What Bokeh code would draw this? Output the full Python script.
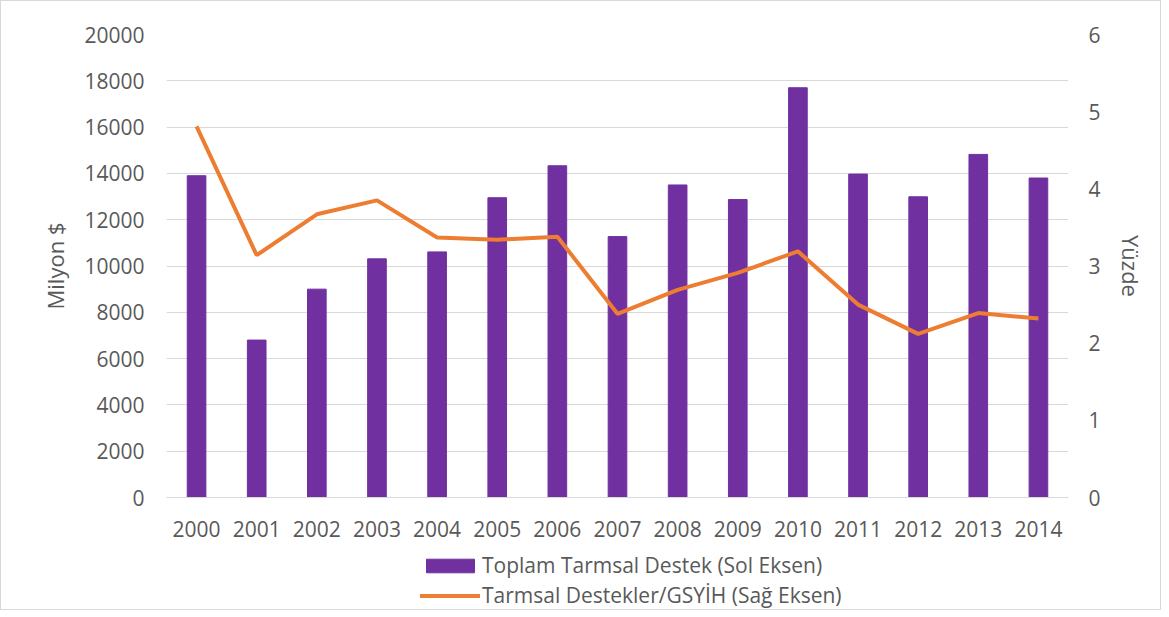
from bokeh.plotting import figure
from bokeh.layouts import column
from bokeh.models import Range1d, LinearAxis, SingleIntervalTicker, Legend, LegendItem, FactorRange
from bokeh.embed import file_html
from bokeh.resources import INLINE

years = ["2000", "2001", "2002", "2003", "2004", "2005", "2006", "2007",
         "2008", "2009", "2010", "2011", "2012", "2013", "2014"]
support = [13900, 6800, 9000, 10310, 10610, 12950, 14330, 11270,
           13500, 12870, 17700, 13970, 12990, 14820, 13800]
ratio = [4.81, 3.14, 3.67, 3.85, 3.37, 3.34, 3.38, 2.38,
         2.69, 2.91, 3.19, 2.50, 2.12, 2.39, 2.32]

bar_label = "Toplam Tarmsal Destek (Sol Eksen)"
line_label = "Tarmsal Destekler/GSYİH (Sağ Eksen)"

FONT = "Open Sans"
TXT = "#595959"
GRID = "#D9D9D9"
BAR_C = "#7030A0"
LINE_C = "#ED7D31"

W = 1159
p = figure(width=W, height=540, x_range=FactorRange(*years, range_padding=0),
           y_range=Range1d(0, 20000), output_backend="svg", toolbar_location=None,
           min_border_left=165, min_border_right=W - 165 - 902, min_border_top=33, min_border_bottom=44)
p.extra_y_ranges = {"pct": Range1d(0, 6)}
p.outline_line_color = None
p.background_fill_color = "white"
p.border_fill_color = "white"

bars = p.vbar(x=years, top=support, width=0.31, color=BAR_C)
line = p.line(x=years, y=ratio, y_range_name="pct", line_color=LINE_C, line_width=4)

p.yaxis.ticker = SingleIntervalTicker(interval=2000)
p.yaxis.axis_label = "Milyon $"

ax_r = LinearAxis(y_range_name="pct", ticker=SingleIntervalTicker(interval=1), axis_label="Yüzde")
p.add_layout(ax_r, "right")

for ax in [p.yaxis[0], ax_r]:
    ax.axis_line_color = None
    ax.major_tick_line_color = None
    ax.minor_tick_line_color = None
    ax.major_label_text_font = FONT
    ax.major_label_text_font_size = "21px"
    ax.major_label_text_color = TXT
    ax.axis_label_text_font = FONT
    ax.axis_label_text_font_size = "22px"
    ax.axis_label_text_font_style = "normal"
    ax.axis_label_text_color = TXT
p.yaxis[0].major_label_standoff = 16
p.yaxis[0].axis_label_standoff = 11
ax_r.major_label_standoff = 14
ax_r.axis_label_standoff = 12

p.xaxis.axis_line_color = GRID
p.xaxis.major_tick_line_color = None
p.xaxis.minor_tick_line_color = None
p.xaxis.major_label_text_font = FONT
p.xaxis.major_label_text_font_size = "21px"
p.xaxis.major_label_text_color = TXT
p.xaxis.major_label_standoff = 17

p.xgrid.grid_line_color = None
p.ygrid.grid_line_color = GRID
p.ygrid.grid_line_width = 1

# legend strip below the chart (hidden proxy glyphs, only their legend entries are shown)
lg = figure(width=W, height=68, x_range=FactorRange(*years), y_range=Range1d(-200000, -100000),
            output_backend="svg", toolbar_location=None,
            min_border_left=0, min_border_right=0, min_border_top=0, min_border_bottom=0)
lg.axis.visible = False
lg.grid.visible = False
lg.outline_line_color = None
lg.border_fill_color = "white"
lg.background_fill_color = "white"
lbar = lg.vbar(x=years, top=support, width=0.31, color=BAR_C, visible=False)
lline = lg.line(x=years, y=ratio, line_color=LINE_C, line_width=4, line_cap="round", visible=False)
legend = Legend(items=[LegendItem(label=bar_label, renderers=[lbar]),
                       LegendItem(label=line_label, renderers=[lline])],
                location=(254, 0), orientation="vertical",
                glyph_width=60, glyph_height=17, spacing=2, padding=0, margin=0,
                label_text_font=FONT, label_text_font_size="21px", label_text_color=TXT,
                border_line_color=None, background_fill_alpha=0, label_standoff=2,
                inactive_fill_alpha=0)
lg.add_layout(legend, "center")

layout = column(p, lg, spacing=0, styles={"border": "1px solid #D9D9D9"})

open("out.html", "w").write(file_html(layout, INLINE))
